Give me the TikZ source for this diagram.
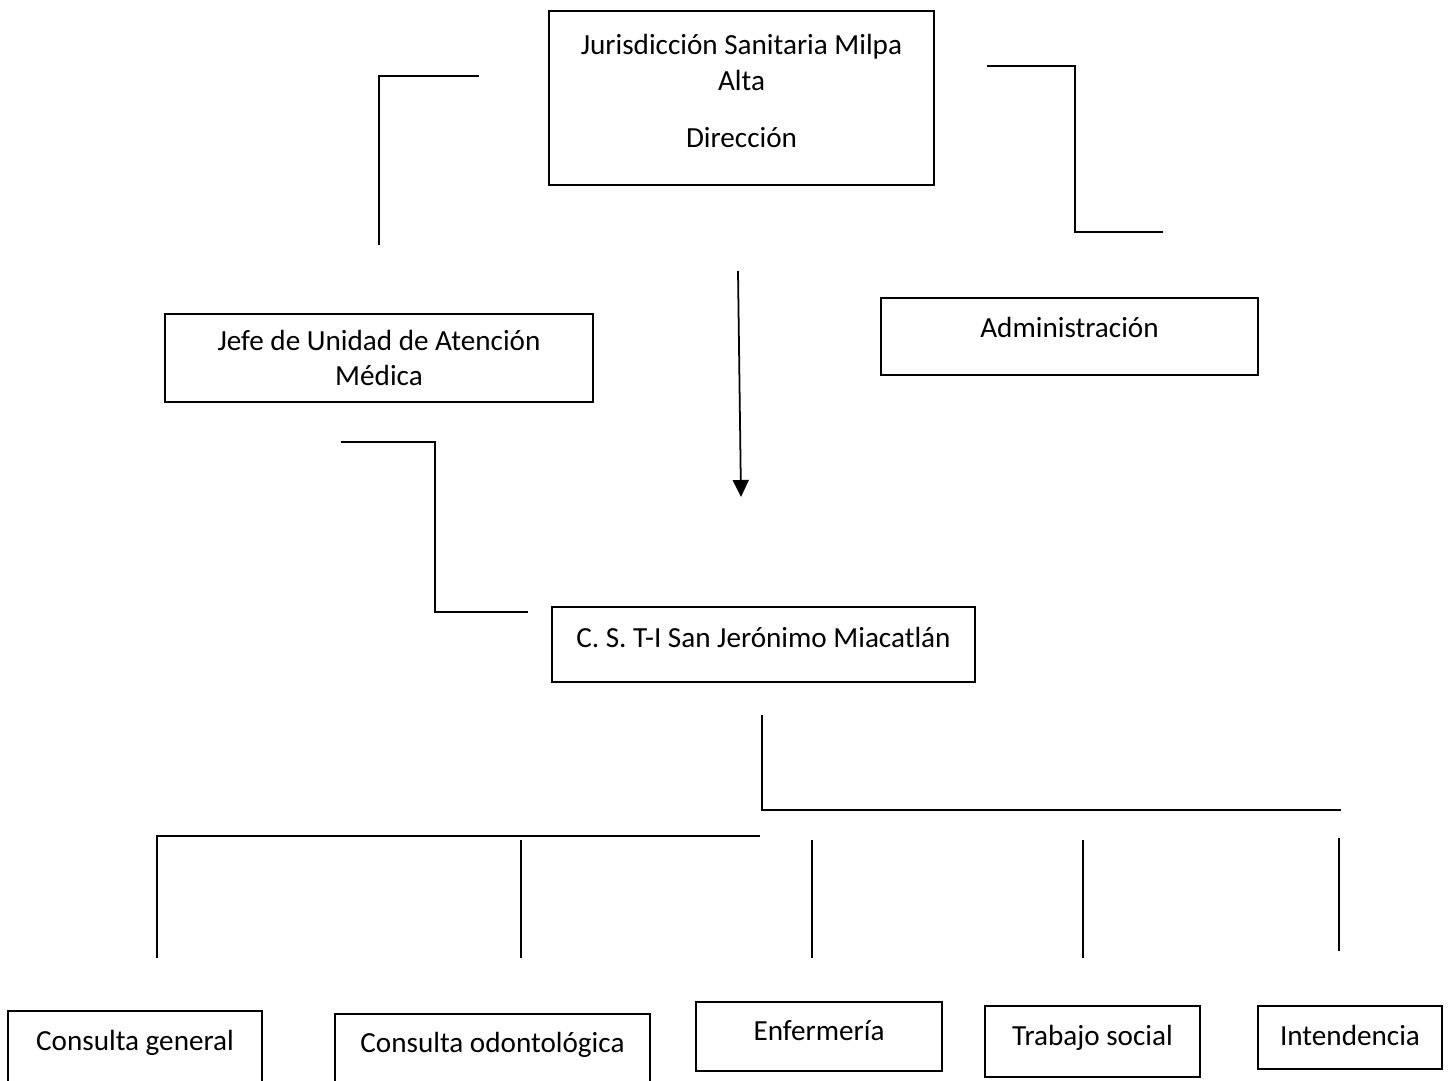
\documentclass[tikz,border=0pt]{standalone}
\usepackage{fontspec}
\setmainfont{Carlito}
\usetikzlibrary{arrows.meta}

\begin{document}
\begin{tikzpicture}[
  x=0.02cm, y=-0.02cm,
  font=\fontsize{16.6}{20}\selectfont,
  >={Triangle[length=3.4mm,width=3.2mm]},
  box/.style={draw=black, line width=1pt, align=center, inner sep=0pt},
  one/.style={text height=0.42cm, text depth=#1},
  one/.default=0.12cm,
  link/.style={draw=black, line width=1pt},
]
\useasboundingbox (0,0) rectangle (1455,1081);
\clip (0,0) rectangle (1455,1081);

% boxes
\node[box, minimum width=7.7cm, minimum height=3.48cm] (dir) at (741.5,98)
  {Jurisdicción Sanitaria Milpa\\ Alta\\[0.44cm]
   \raisebox{0pt}[\height][0.28cm]{Dirección}};
\node[box, minimum width=8.56cm, minimum height=1.76cm] (jefe) at (379,358)
  {Jefe de Unidad de Atención\\ Médica};
\node[box, one=0.38cm, minimum width=7.54cm, minimum height=1.54cm] (admin)
  at (1069.5,336.5) {Administración};
\node[box, one=0.3cm, minimum width=8.46cm, minimum height=1.5cm] (cs)
  at (763.5,644.5) {C. S. T-I San Jerónimo Miacatlán};

\node[box, one=0.84cm, minimum width=5.08cm, minimum height=2cm] (gen)
  at (135,1061) {Consulta general};
\node[box, one=0.88cm, minimum width=6.3cm, minimum height=2cm] (odo)
  at (492.5,1064) {Consulta odontológica};
\node[box, one=0.26cm, minimum width=4.92cm, minimum height=1.38cm] (enf)
  at (819,1036.5) {Enfermería};
\node[box, one=0.26cm, minimum width=4.3cm, minimum height=1.42cm] (tsoc)
  at (1092.5,1041.5) {Trabajo social};
\node[box, one, minimum width=3.68cm, minimum height=1.26cm] (int)
  at (1350,1037.5) {Intendencia};

% connector ends
\coordinate (jl1) at (479,76);   \coordinate (jl2) at (379,245);
\coordinate (ar1) at (987,66);   \coordinate (ark) at (1075,149);
\coordinate (ar2) at (1163,232);
\coordinate (jc1) at (341,442);  \coordinate (jck) at (435,527);
\coordinate (jc2) at (528,612);
\coordinate (dn1) at (738,271);  \coordinate (dn2) at (741,497);
\coordinate (cs1) at (762,715);  \coordinate (cs2) at (1341,810);
\coordinate (bb1) at (157,958);  \coordinate (bb2) at (760,836);

\draw[link] (jl1) -| (jl2);
\draw[link] (ar1) -| (ark) |- (ar2);
\draw[link] (jc1) -| (jck) |- (jc2);
\draw[link, ->] (dn1) -- (dn2);
\draw[link] (cs1) |- (cs2);
\draw[link] (bb1) |- (bb2);

\foreach \x/\n in {521/a, 812/b, 1083/c} {
  \coordinate (up\n) at (\x,840);
  \coordinate (lo\n) at (\x,958);
  \draw[link] (up\n) -- (lo\n);
}
\coordinate (upd) at (1339,838); \coordinate (lod) at (1339,951);
\draw[link] (upd) -- (lod);
\end{tikzpicture}
\end{document}
